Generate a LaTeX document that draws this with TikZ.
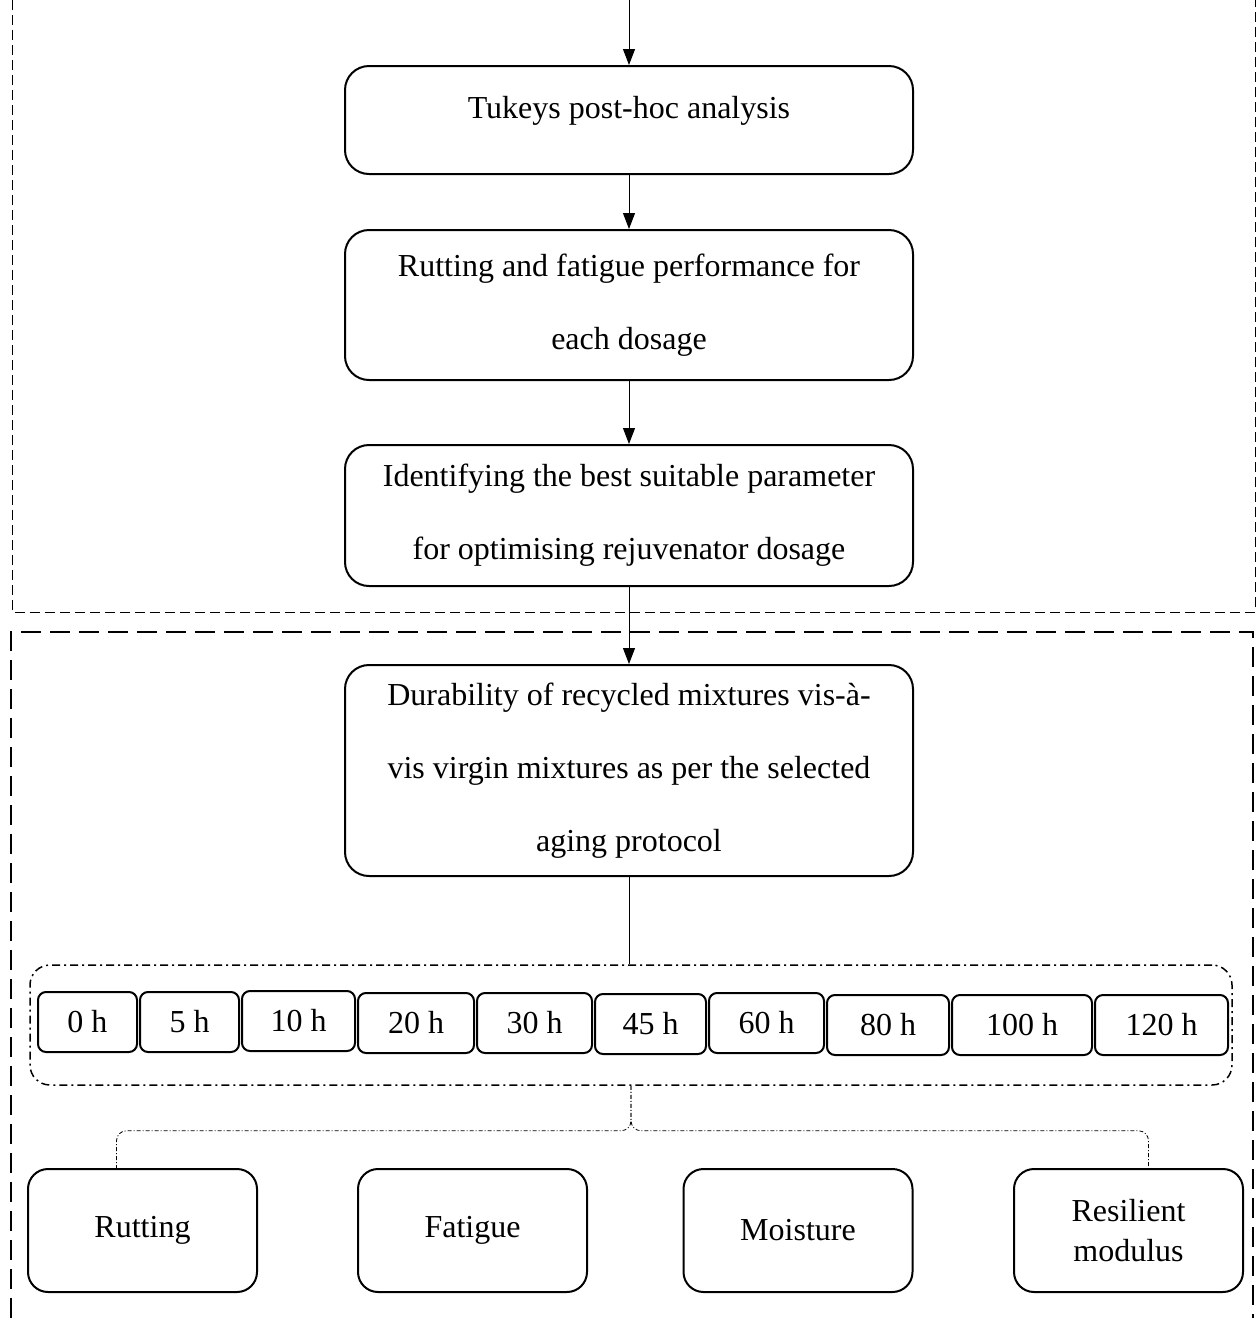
\documentclass[tikz,border=0pt]{standalone}
\usepackage{fontspec}
\setmainfont{Liberation Serif}
\usepackage{tikz}
\usetikzlibrary{arrows.meta,positioning}

\begin{document}
\begin{tikzpicture}[x=0.5pt, y=-0.5pt,
      proc/.style={draw, line width=1pt, rounded corners=12pt,
                   minimum width=284pt, align=center,
                   font=\fontsize{16}{36.5}\selectfont},
      grpbox/.style={draw, line width=0.75pt, rounded corners=10pt,
                   dash pattern=on 4pt off 2pt on 1pt off 2pt,
                   minimum width=601pt, minimum height=60pt},
      hrs/.style={draw, line width=1pt, rounded corners=4pt,
                  minimum height=30pt, inner sep=0pt,
                  font=\fontsize{16}{19}\selectfont},
      prop/.style={draw, line width=1pt, rounded corners=10pt,
                   minimum width=114.5pt, minimum height=61.5pt,
                   align=center, font=\fontsize{16}{20}\selectfont},
      arr/.style={-{Triangle[length=8pt,width=6pt]}, line width=0.5pt},
      link/.style={line width=0.4pt, rounded corners=5pt,
                   dash pattern=on 2pt off 1pt on 0.5pt off 1pt}
  ]
    \useasboundingbox (0,0) rectangle (1256,1318);
    \draw[line width=0.5pt, dash pattern=on 5pt off 2.5pt]
      (12,0) -- (12,612) -- (1255,612) -- (1255,0);
    \draw[line width=1pt, dash pattern=on 10pt off 4.5pt]
      (11,1318) -- (11,632) -- (1253,632) -- (1253,1318);

    \coordinate (top) at (629,0);
    \node[proc, minimum height=54pt, text depth=13pt] (tukey) at (629,120)
      {Tukeys post-hoc analysis};
    \node[proc, minimum height=75pt] (rutfat) at (629,305)
      {Rutting and fatigue performance for\\ each dosage};
    \node[proc, minimum height=70.5pt] (ident) at (629,515.5)
      {Identifying the best suitable parameter\\ for optimising rejuvenator dosage};
    \node[proc, minimum height=105.5pt] (dura) at (629,770.5)
      {Durability of recycled mixtures vis-à-\\ vis virgin mixtures as per the selected\\ aging protocol};

    \node[grpbox] (grp) at (631,1025) {};
    \foreach \hr/\xl/\xr/\yc in {0/38/137/1022, 5/140/239/1022, 10/242/355/1021,
        20/358/474/1023, 30/477/592/1023, 45/595/706/1024, 60/709/824/1023,
        80/827/949/1025, 100/952/1092/1025, 120/1095/1228/1025}
      \node[hrs, minimum width={(\xr-\xl)*0.5pt}] (h\hr) at ({(\xl+\xr)/2},\yc) {\hr\ h};

    \node[prop] (rutt) at (142.5,1230.5) {Rutting};
    \node[prop] (fatg) at (472.5,1230.5) {Fatigue};
    \node[prop] (moist) at (798,1230.5) {Moisture};
    \node[prop] (resil) at (1128.5,1230.5) {Resilient\\ modulus};

    \draw[arr] (top) -- (tukey);
    \draw[arr] (tukey) -- (rutfat);
    \draw[arr] (rutfat) -- (ident);
    \draw[arr] (ident) -- (dura);
    \draw[line width=0.5pt] (dura) -- (dura.south |- grp.north);
    \draw[link] (grp.south) -- ++(0,45) -| ([xshift=-13pt]rutt.north);
    \draw[link] (grp.south) -- ++(0,45) -| ([xshift=10pt]resil.north);
  \end{tikzpicture}
\end{document}
